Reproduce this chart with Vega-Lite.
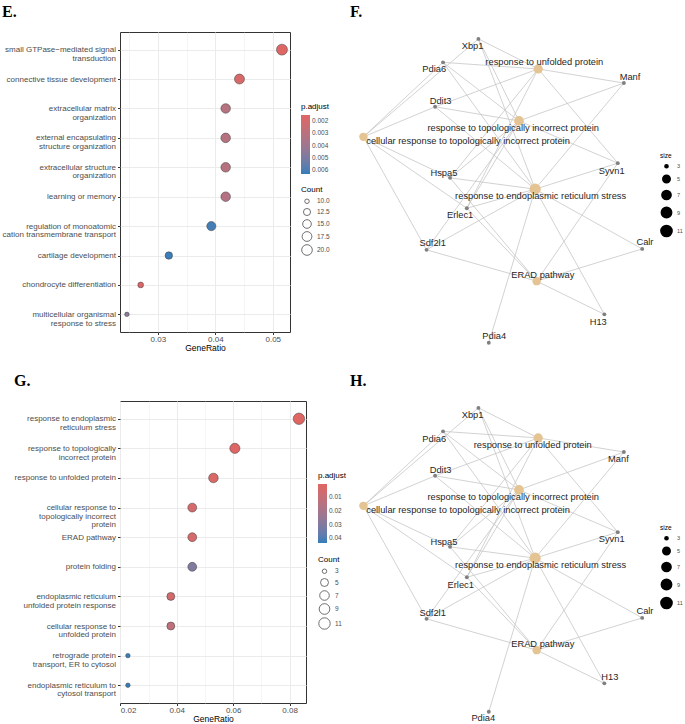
{
  "$schema": "https://vega.github.io/schema/vega-lite/v6.json",
  "padding": {"left": 1, "top": 3, "right": 0, "bottom": 0},
  "background": "white",
  "datasets": {
    "E": [
      {"term": "small GTPase−mediated signal\ntransduction", "GeneRatio": 0.0516, "Count": 21, "padj": 0.0016},
      {"term": "connective tissue development", "GeneRatio": 0.0442, "Count": 18, "padj": 0.0018},
      {"term": "extracellular matrix\norganization", "GeneRatio": 0.0418, "Count": 17, "padj": 0.0031},
      {"term": "external encapsulating\nstructure organization", "GeneRatio": 0.0418, "Count": 17, "padj": 0.0031},
      {"term": "extracellular structure\norganization", "GeneRatio": 0.0418, "Count": 17, "padj": 0.0031},
      {"term": "learning or memory", "GeneRatio": 0.0418, "Count": 17, "padj": 0.0032},
      {"term": "regulation of monoatomic\ncation transmembrane transport", "GeneRatio": 0.0393, "Count": 16, "padj": 0.0061},
      {"term": "cartilage development", "GeneRatio": 0.0319, "Count": 13, "padj": 0.0062},
      {"term": "chondrocyte differentiation", "GeneRatio": 0.0270, "Count": 11, "padj": 0.0017},
      {"term": "multicellular organismal\nresponse to stress", "GeneRatio": 0.0246, "Count": 10, "padj": 0.0045}
    ],
    "G": [
      {"term": "response to endoplasmic\nreticulum stress", "GeneRatio": 0.0833, "Count": 11, "padj": 0.0003},
      {"term": "response to topologically\nincorrect protein", "GeneRatio": 0.0606, "Count": 8, "padj": 0.0012},
      {"term": "response to unfolded protein", "GeneRatio": 0.0530, "Count": 7, "padj": 0.0025},
      {"term": "cellular response to\ntopologically incorrect\nprotein", "GeneRatio": 0.0455, "Count": 6, "padj": 0.004},
      {"term": "ERAD pathway", "GeneRatio": 0.0455, "Count": 6, "padj": 0.004},
      {"term": "protein folding", "GeneRatio": 0.0455, "Count": 6, "padj": 0.030},
      {"term": "endoplasmic reticulum\nunfolded protein response", "GeneRatio": 0.0379, "Count": 5, "padj": 0.005},
      {"term": "cellular response to\nunfolded protein", "GeneRatio": 0.0379, "Count": 5, "padj": 0.012},
      {"term": "retrograde protein\ntransport, ER to cytosol", "GeneRatio": 0.0227, "Count": 3, "padj": 0.043},
      {"term": "endoplasmic reticulum to\ncytosol transport", "GeneRatio": 0.0227, "Count": 3, "padj": 0.043}
    ],
    "nodes": [
      {"name": "Xbp1", "kind": "gene", "x": 4.21, "y": 9.78, "lxF": 4.02, "lyF": 9.56, "lxH": 4.02, "lyH": 9.56},
      {"name": "Pdia6", "kind": "gene", "x": 3.05, "y": 9.03, "lxF": 2.76, "lyF": 8.82, "lxH": 2.76, "lyH": 8.80},
      {"name": "Manf", "kind": "gene", "x": 8.98, "y": 8.37, "lxF": 9.18, "lyF": 8.56, "lxH": 8.80, "lyH": 8.15},
      {"name": "Ddit3", "kind": "gene", "x": 2.79, "y": 7.61, "lxF": 2.97, "lyF": 7.81, "lxH": 2.97, "lyH": 7.81},
      {"name": "Syvn1", "kind": "gene", "x": 8.78, "y": 5.81, "lxF": 8.58, "lyF": 5.57, "lxH": 8.58, "lyH": 5.60},
      {"name": "Hspa5", "kind": "gene", "x": 3.28, "y": 5.34, "lxF": 3.08, "lyF": 5.50, "lxH": 3.08, "lyH": 5.49},
      {"name": "Erlec1", "kind": "gene", "x": 3.83, "y": 4.37, "lxF": 3.61, "lyF": 4.15, "lxH": 3.63, "lyH": 4.13},
      {"name": "Sdf2l1", "kind": "gene", "x": 2.51, "y": 3.04, "lxF": 2.71, "lyF": 3.25, "lxH": 2.71, "lyH": 3.24},
      {"name": "Calr", "kind": "gene", "x": 9.58, "y": 3.07, "lxF": 9.67, "lyF": 3.28, "lxH": 9.67, "lyH": 3.29},
      {"name": "H13", "kind": "gene", "x": 8.34, "y": 0.98, "lxF": 8.14, "lyF": 0.74, "lxH": 8.52, "lyH": 1.17},
      {"name": "Pdia4", "kind": "gene", "x": 4.55, "y": 0.07, "lxF": 4.73, "lyF": 0.29, "lxH": 4.37, "lyH": -0.13},
      {"name": "response to unfolded protein", "kind": "term", "size": 7, "x": 6.17, "y": 8.82, "lxF": 6.37, "lyF": 9.03, "lxH": 5.99, "lyH": 8.60},
      {"name": "response to topologically incorrect protein", "kind": "term", "size": 8, "x": 5.54, "y": 7.16, "lxF": 5.35, "lyF": 6.93, "lxH": 5.35, "lyH": 6.92},
      {"name": "cellular response to topologically incorrect protein", "kind": "term", "size": 6, "x": 0.44, "y": 6.65, "lxF": 3.87, "lyF": 6.53, "lxH": 3.87, "lyH": 6.53},
      {"name": "response to endoplasmic reticulum stress", "kind": "term", "size": 11, "x": 6.07, "y": 4.98, "lxF": 6.25, "lyF": 4.77, "lxH": 6.25, "lyH": 4.76},
      {"name": "ERAD pathway", "kind": "term", "size": 6, "x": 6.12, "y": 2.04, "lxF": 6.32, "lyF": 2.24, "lxH": 6.32, "lyH": 2.23}
    ],
    "edges": [
      {"term": "response to endoplasmic reticulum stress", "gene": "Xbp1"},
      {"term": "response to endoplasmic reticulum stress", "gene": "Pdia6"},
      {"term": "response to endoplasmic reticulum stress", "gene": "Manf"},
      {"term": "response to endoplasmic reticulum stress", "gene": "Ddit3"},
      {"term": "response to endoplasmic reticulum stress", "gene": "Syvn1"},
      {"term": "response to endoplasmic reticulum stress", "gene": "Hspa5"},
      {"term": "response to endoplasmic reticulum stress", "gene": "Erlec1"},
      {"term": "response to endoplasmic reticulum stress", "gene": "Sdf2l1"},
      {"term": "response to endoplasmic reticulum stress", "gene": "Calr"},
      {"term": "response to endoplasmic reticulum stress", "gene": "H13"},
      {"term": "response to endoplasmic reticulum stress", "gene": "Pdia4"},
      {"term": "response to unfolded protein", "gene": "Xbp1"},
      {"term": "response to unfolded protein", "gene": "Pdia6"},
      {"term": "response to unfolded protein", "gene": "Manf"},
      {"term": "response to unfolded protein", "gene": "Ddit3"},
      {"term": "response to unfolded protein", "gene": "Hspa5"},
      {"term": "response to unfolded protein", "gene": "Erlec1"},
      {"term": "response to unfolded protein", "gene": "Syvn1"},
      {"term": "response to topologically incorrect protein", "gene": "Xbp1"},
      {"term": "response to topologically incorrect protein", "gene": "Pdia6"},
      {"term": "response to topologically incorrect protein", "gene": "Manf"},
      {"term": "response to topologically incorrect protein", "gene": "Ddit3"},
      {"term": "response to topologically incorrect protein", "gene": "Hspa5"},
      {"term": "response to topologically incorrect protein", "gene": "Erlec1"},
      {"term": "response to topologically incorrect protein", "gene": "Syvn1"},
      {"term": "response to topologically incorrect protein", "gene": "Sdf2l1"},
      {"term": "cellular response to topologically incorrect protein", "gene": "Xbp1"},
      {"term": "cellular response to topologically incorrect protein", "gene": "Pdia6"},
      {"term": "cellular response to topologically incorrect protein", "gene": "Ddit3"},
      {"term": "cellular response to topologically incorrect protein", "gene": "Hspa5"},
      {"term": "cellular response to topologically incorrect protein", "gene": "Erlec1"},
      {"term": "cellular response to topologically incorrect protein", "gene": "Sdf2l1"},
      {"term": "ERAD pathway", "gene": "Syvn1"},
      {"term": "ERAD pathway", "gene": "Erlec1"},
      {"term": "ERAD pathway", "gene": "Sdf2l1"},
      {"term": "ERAD pathway", "gene": "Calr"},
      {"term": "ERAD pathway", "gene": "H13"},
      {"term": "ERAD pathway", "gene": "Hspa5"}
    ]
  },
  "concat": [
    {
      "spacing": 19,
      "resolve": {"scale": {"color": "independent", "size": "independent", "x": "independent", "y": "independent"}, "legend": {"color": "independent", "size": "independent"}},
      "hconcat": [
        {
          "title": {"text": "E."},
          "width": 170,
          "height": 300,
          "data": {"name": "E"},
          "mark": {"type": "circle", "opacity": 1, "stroke": "#3a3a3a", "strokeWidth": 0.5},
          "encoding": {
            "x": {
              "field": "GeneRatio", "type": "quantitative", "title": "GeneRatio",
              "scale": {"domain": [0.0234, 0.053], "nice": false, "zero": false},
              "axis": {
                "values": [0.025, 0.03, 0.035, 0.04, 0.045, 0.05],
                "format": ".2f",
                "labelExpr": "abs(datum.value*100-round(datum.value*100))<0.01 ? datum.label : ''",
                "tickOpacity": {"condition": {"test": "abs(datum.value*100-round(datum.value*100))<0.01", "value": 1}, "value": 0},
                "gridWidth": {"condition": {"test": "abs(datum.value*100-round(datum.value*100))<0.01", "value": 1}, "value": 0.5}
              }
            },
            "y": {
              "field": "term", "type": "nominal", "sort": null, "title": null,
              "scale": {"padding": 0.6},
              "axis": {"grid": true, "gridWidth": 1, "labelExpr": "split(datum.label, '\\n')", "labelLineHeight": 8.7, "labelPadding": 2}
            },
            "color": {
              "field": "padj", "type": "quantitative", "title": "p.adjust",
              "scale": {"domain": [0.0063, 0.0015], "range": ["#327eba", "#e06663"], "interpolate": "lab", "nice": false, "zero": false},
              "legend": {"orient": "none", "legendX": 181, "legendY": 71, "direction": "vertical", "values": [0.002, 0.003, 0.004, 0.005, 0.006], "format": ".3f"}
            },
            "size": {
              "field": "Count", "type": "quantitative", "title": "Count",
              "scale": {"type": "log", "domain": [10, 21], "range": [20, 120]},
              "legend": {
                "orient": "none", "legendX": 181, "legendY": 154, "values": [10, 12.5, 15, 17.5, 20], "format": ".1f",
                "rowPadding": 0,
                "symbolFillColor": "white", "symbolStrokeColor": "#4D4D4D", "symbolStrokeWidth": 0.8, "symbolOpacity": 1
              }
            }
          }
        },
        {
          "title": {"text": "F."},
          "width": 305,
          "height": 313,
          "view": {"stroke": null},
          "layer": [
            {
              "data": {"name": "edges"},
              "transform": [
                {"lookup": "term", "from": {"data": {"name": "nodes"}, "key": "name", "fields": ["x", "y"]}, "as": ["tx", "ty"]},
                {"lookup": "gene", "from": {"data": {"name": "nodes"}, "key": "name", "fields": ["x", "y"]}, "as": ["gx", "gy"]}
              ],
              "mark": {"type": "rule", "color": "#C6C6C6", "strokeWidth": 0.8},
              "encoding": {
                "x": {"field": "tx", "type": "quantitative", "scale": {"domain": [0, 10], "nice": false, "zero": false}, "axis": null},
                "y": {"field": "ty", "type": "quantitative", "scale": {"domain": [0, 10], "nice": false, "zero": false}, "axis": null},
                "x2": {"field": "gx"},
                "y2": {"field": "gy"}
              }
            },
            {
              "data": {"name": "nodes"},
              "transform": [{"filter": "datum.kind === 'gene'"}],
              "mark": {"type": "circle", "color": "#808080", "opacity": 1, "size": 15},
              "encoding": {
                "x": {"field": "x", "type": "quantitative", "axis": null},
                "y": {"field": "y", "type": "quantitative", "axis": null}
              }
            },
            {
              "data": {"name": "nodes"},
              "transform": [{"filter": "datum.kind === 'term'"}],
              "mark": {"type": "circle", "opacity": 1},
              "encoding": {
                "x": {"field": "x", "type": "quantitative", "axis": null},
                "y": {"field": "y", "type": "quantitative", "axis": null},
                "color": {"field": "kind", "type": "nominal", "scale": {"domain": ["term"], "range": ["#E5C494"]}, "legend": null},
                "size": {
                  "field": "size", "type": "quantitative", "title": "size",
                  "scale": {"type": "log", "domain": [3, 11], "range": [10, 125]},
                  "legend": {
                    "orient": "none", "legendX": 310, "legendY": 121, "values": [3, 5, 7, 9, 11],
                    "titleFontSize": 6.5, "labelFontSize": 5.5, "rowPadding": 0,
                    "symbolFillColor": "black", "symbolStrokeColor": "black", "symbolOpacity": 1
                  }
                }
              }
            },
            {
              "data": {"name": "nodes"},
              "mark": {"type": "text", "font": "Liberation Sans", "fontSize": 9.3, "color": "#262626"},
              "encoding": {
                "x": {"field": "lxF", "type": "quantitative", "axis": null},
                "y": {"field": "lyF", "type": "quantitative", "axis": null},
                "text": {"field": "name"}
              }
            }
          ]
        }
      ]
    },
    {
      "spacing": 2,
      "resolve": {"scale": {"color": "independent", "size": "independent", "x": "independent", "y": "independent"}, "legend": {"color": "independent", "size": "independent"}},
      "hconcat": [
        {
          "title": {"text": "G."},
          "width": 186,
          "height": 302,
          "data": {"name": "G"},
          "mark": {"type": "circle", "opacity": 1, "stroke": "#3a3a3a", "strokeWidth": 0.5},
          "encoding": {
            "x": {
              "field": "GeneRatio", "type": "quantitative", "title": "GeneRatio",
              "scale": {"domain": [0.0199, 0.0858], "nice": false, "zero": false},
              "axis": {
                "values": [0.02, 0.03, 0.04, 0.05, 0.06, 0.07, 0.08],
                "format": ".2f",
                "labelExpr": "abs(datum.value*50-round(datum.value*50))<0.01 ? datum.label : ''",
                "tickOpacity": {"condition": {"test": "abs(datum.value*50-round(datum.value*50))<0.01", "value": 1}, "value": 0},
                "gridWidth": {"condition": {"test": "abs(datum.value*50-round(datum.value*50))<0.01", "value": 1}, "value": 0.5}
              }
            },
            "y": {
              "field": "term", "type": "nominal", "sort": null, "title": null,
              "scale": {"padding": 0.6},
              "axis": {"grid": true, "gridWidth": 1, "labelExpr": "split(datum.label, '\\n')", "labelLineHeight": 8.7, "labelPadding": 2}
            },
            "color": {
              "field": "padj", "type": "quantitative", "title": "p.adjust",
              "scale": {"domain": [0.0433, 0.0003], "range": ["#327eba", "#e06663"], "interpolate": "lab", "nice": false, "zero": false},
              "legend": {"orient": "none", "legendX": 198, "legendY": 71, "direction": "vertical", "values": [0.01, 0.02, 0.03, 0.04], "format": ".2f"}
            },
            "size": {
              "field": "Count", "type": "quantitative", "title": "Count",
              "scale": {"type": "log", "domain": [3, 11], "range": [20, 130]},
              "legend": {
                "orient": "none", "legendX": 198, "legendY": 155, "values": [3, 5, 7, 9, 11], "format": "d",
                "rowPadding": 0,
                "symbolFillColor": "white", "symbolStrokeColor": "#4D4D4D", "symbolStrokeWidth": 0.8, "symbolOpacity": 1
              }
            }
          }
        },
        {
          "title": {"text": "H."},
          "width": 305,
          "height": 313,
          "view": {"stroke": null},
          "layer": [
            {
              "data": {"name": "edges"},
              "transform": [
                {"lookup": "term", "from": {"data": {"name": "nodes"}, "key": "name", "fields": ["x", "y"]}, "as": ["tx", "ty"]},
                {"lookup": "gene", "from": {"data": {"name": "nodes"}, "key": "name", "fields": ["x", "y"]}, "as": ["gx", "gy"]}
              ],
              "mark": {"type": "rule", "color": "#C6C6C6", "strokeWidth": 0.8},
              "encoding": {
                "x": {"field": "tx", "type": "quantitative", "scale": {"domain": [0, 10], "nice": false, "zero": false}, "axis": null},
                "y": {"field": "ty", "type": "quantitative", "scale": {"domain": [0, 10], "nice": false, "zero": false}, "axis": null},
                "x2": {"field": "gx"},
                "y2": {"field": "gy"}
              }
            },
            {
              "data": {"name": "nodes"},
              "transform": [{"filter": "datum.kind === 'gene'"}],
              "mark": {"type": "circle", "color": "#808080", "opacity": 1, "size": 15},
              "encoding": {
                "x": {"field": "x", "type": "quantitative", "axis": null},
                "y": {"field": "y", "type": "quantitative", "axis": null}
              }
            },
            {
              "data": {"name": "nodes"},
              "transform": [{"filter": "datum.kind === 'term'"}],
              "mark": {"type": "circle", "opacity": 1},
              "encoding": {
                "x": {"field": "x", "type": "quantitative", "axis": null},
                "y": {"field": "y", "type": "quantitative", "axis": null},
                "color": {"field": "kind", "type": "nominal", "scale": {"domain": ["term"], "range": ["#E5C494"]}, "legend": null},
                "size": {
                  "field": "size", "type": "quantitative", "title": "size",
                  "scale": {"type": "log", "domain": [3, 11], "range": [10, 125]},
                  "legend": {
                    "orient": "none", "legendX": 310, "legendY": 124, "values": [3, 5, 7, 9, 11],
                    "titleFontSize": 6.5, "labelFontSize": 5.5, "rowPadding": 0,
                    "symbolFillColor": "black", "symbolStrokeColor": "black", "symbolOpacity": 1
                  }
                }
              }
            },
            {
              "data": {"name": "nodes"},
              "mark": {"type": "text", "font": "Liberation Sans", "fontSize": 9.3, "color": "#262626"},
              "encoding": {
                "x": {"field": "lxH", "type": "quantitative", "axis": null},
                "y": {"field": "lyH", "type": "quantitative", "axis": null},
                "text": {"field": "name"}
              }
            }
          ]
        }
      ]
    }
  ],
  "columns": 1,
  "align": "none",
  "spacing": 19,
  "resolve": {"scale": {"color": "independent", "size": "independent", "x": "independent", "y": "independent"}, "legend": {"color": "independent", "size": "independent"}},
  "config": {
    "font": "Liberation Sans",
    "view": {"stroke": "#333333", "strokeWidth": 1},
    "axis": {
      "labelFont": "Liberation Sans", "labelFontSize": 8, "labelColor": "#4D4D4D",
      "tickColor": "#333333", "tickSize": 2.5, "tickWidth": 1, "domain": false,
      "gridColor": "#EBEBEB",
      "titleFont": "Liberation Sans", "titleFontSize": 8.5, "titleFontWeight": "normal", "titleColor": "#000000",
      "labelPadding": 1, "titlePadding": 0
    },
    "legend": {
      "titleFont": "Liberation Sans", "titleFontSize": 8, "titleFontWeight": "normal", "titleColor": "#000000",
      "labelFont": "Liberation Sans", "labelFontSize": 6.5, "labelColor": "#4D4D4D",
      "gradientLength": 59, "gradientThickness": 9, "gradientStrokeWidth": 0,
      "titlePadding": 4, "labelOffset": 4
    },
    "title": {"font": "Liberation Serif", "fontSize": 16, "fontWeight": "bold", "color": "#000000", "anchor": "start", "offset": 12}
  }
}
